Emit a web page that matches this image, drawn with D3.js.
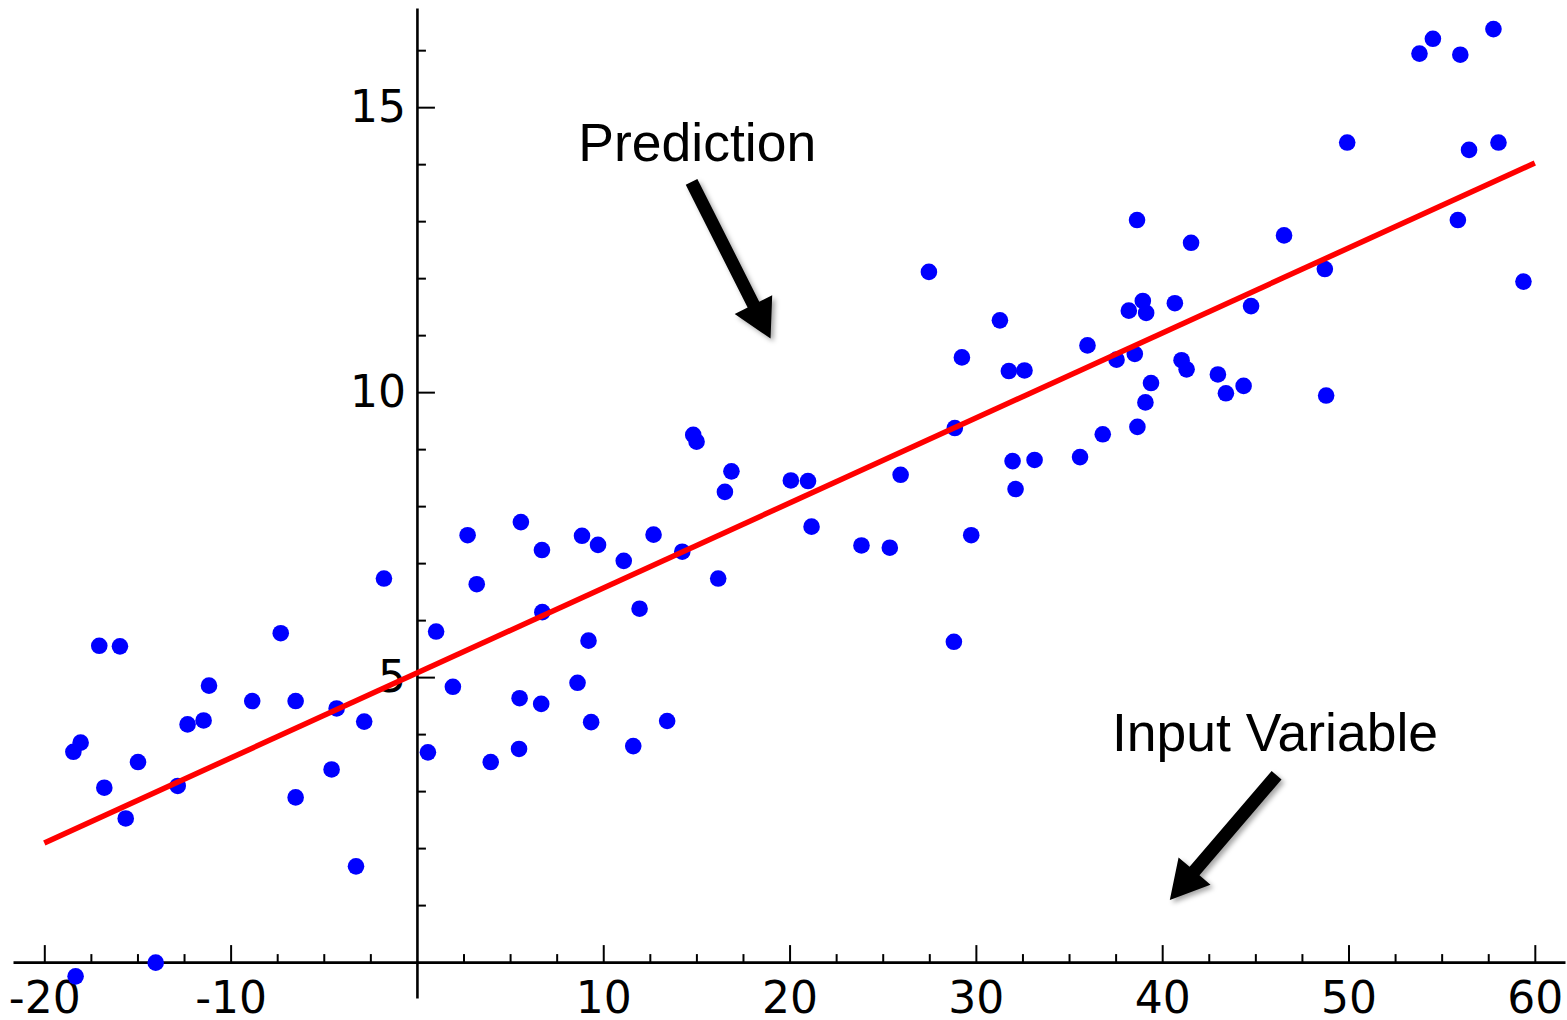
<!DOCTYPE html>
<html>
<head>
<meta charset="utf-8">
<script src="https://cdn.jsdelivr.net/npm/d3@7"></script>
<style>
  html, body { margin: 0; padding: 0; background: #fff; }
  svg { display: block; }
</style>
</head>
<body>
<div id="chart"></div>
<script>
// scatter points
const xs = [-1.77, -17.05, -15.94, -7.31, -11.16, -8.84, -6.51, -4.31, -2.83, -12.31, -11.45,
  -18.05, -18.44, -14.97, -4.58, -16.78, -12.84, -6.51, -15.63, -3.27, -14.02, -18.32,
  14.83, 15.01, 16.88, 16.53, 20.07, 20.99, 21.18, 5.58, 2.72, 8.86, 9.72, 12.70, 6.71,
  11.10, 14.24, 3.21, 16.17, 11.95, 6.73, 1.03, 9.21, 1.93, 8.62, 5.51, 6.67, 9.35, 13.43,
  0.59, 3.96, 5.48, 11.61,
  27.48, 31.29, 29.25, 31.77, 32.61, 35.99, 38.21, 38.96, 39.14, 40.68, 37.55, 38.53,
  41.04, 41.31, 42.99, 43.42, 44.37, 39.40, 39.10, 38.67, 36.81, 35.59, 31.97, 33.15,
  32.13, 28.87, 25.96, 23.86, 25.38, 29.75, 28.82,
  57.78, 54.53, 53.81, 56.00, 49.93, 56.47, 58.05, 55.87, 38.65, 41.55, 46.54, 48.73,
  59.39, 44.77, 48.80];
const ys = [6.73, 5.55, 5.54, 5.77, 4.85, 4.58, 4.58, 4.45, 4.22, 4.17, 4.24,
  3.85, 3.69, 3.51, 3.38, 3.06, 3.09, 2.89, 2.52, 1.68, -0.01, -0.25,
  9.25, 9.13, 8.61, 8.25, 8.45, 8.44, 7.64, 7.72, 7.49, 7.48, 7.32, 7.50, 7.23,
  7.04, 7.20, 6.63, 6.73, 6.20, 6.14, 5.80, 5.64, 4.83, 4.90, 4.63, 4.53, 4.21, 4.23,
  3.68, 3.51, 3.74, 3.79,
  12.11, 11.26, 10.61, 10.37, 10.38, 10.82, 11.43, 11.60, 11.39, 11.56, 10.57, 10.67,
  10.56, 10.40, 10.31, 9.98, 10.11, 10.16, 9.82, 9.39, 9.26, 8.86, 8.79, 8.81,
  8.30, 9.37, 8.55, 7.31, 7.27, 7.49, 5.62,
  16.37, 16.20, 15.94, 15.92, 14.38, 14.25, 14.38, 13.02, 13.02, 12.62, 12.75, 12.16,
  11.94, 11.51, 9.94];

// prediction line end points
const lineX = [-20, 60];
const lineY = [2.09, 14.02];

// axis ticks
const xMajor = [-20, -10, 10, 20, 30, 40, 50, 60];
const xMinor = [-17.5, -15, -12.5, -7.5, -5, -2.5, 2.5, 5, 7.5, 12.5, 15, 17.5, 22.5, 25, 27.5,
  32.5, 35, 37.5, 42.5, 45, 47.5, 52.5, 55, 57.5];
const yMajor = [5, 10, 15];
const yMinor = [1, 2, 3, 4, 6, 7, 8, 9, 11, 12, 13, 14, 16];

// annotations (data units)
const notes = [
  { text: "Prediction", x: 8.66, y: 14.05, from: [14.74, 13.69], to: [18.98, 10.94] },
  { text: "Input Variable", x: 37.3, y: 3.70, from: [46.14, 3.28], to: [40.41, 1.09] }
];

const width = 1567, height = 1020;

const svg = d3.select("#chart").append("svg")
  .attr("width", width)
  .attr("height", height);

const x = d3.scaleLinear().domain([-21.68, 61.62]).range([13, 1565]);
const y = d3.scaleLinear().domain([-0.63, 16.74]).range([998, 8]);

const defs = svg.append("defs");
defs.append("filter")
  .attr("id", "shadow")
  .attr("x", "-20%").attr("y", "-20%").attr("width", "140%").attr("height", "140%")
  .append("feDropShadow")
  .attr("dx", 3).attr("dy", 3).attr("stdDeviation", 2.5)
  .attr("flood-color", "#000").attr("flood-opacity", 0.35);

const tickFont = "'DejaVu Sans', sans-serif";
const plain = d => String(d);

// x axis, ticks pointing up
const gx = svg.append("g").attr("transform", `translate(0,${y(0)})`);
gx.call(d3.axisBottom(x).tickValues(xMinor).tickSizeInner(-8).tickSizeOuter(0).tickFormat(""));
gx.select(".domain").remove();
gx.call(g => g.append("g")
  .call(d3.axisBottom(x).tickValues(xMajor).tickSizeInner(-17).tickSizeOuter(0)
    .tickPadding(20).tickFormat(plain)));
gx.selectAll("line").attr("stroke", "#000").attr("stroke-width", 2);
gx.select(".domain").attr("stroke", "#000").attr("stroke-width", 2.6);
gx.selectAll("text")
  .attr("fill", "#000")
  .style("font-family", tickFont)
  .style("font-size", "44px");

// y axis, ticks pointing right
const gy = svg.append("g").attr("transform", `translate(${x(0)},0)`);
gy.call(d3.axisLeft(y).tickValues(yMinor).tickSizeInner(-9).tickSizeOuter(0).tickFormat(""));
gy.select(".domain").remove();
gy.call(g => g.append("g")
  .call(d3.axisLeft(y).tickValues(yMajor).tickSizeInner(-18).tickSizeOuter(0)
    .tickPadding(11).tickFormat(plain)));
gy.selectAll("line").attr("stroke", "#000").attr("stroke-width", 2);
gy.select(".domain").attr("stroke", "#000").attr("stroke-width", 2.6);
gy.selectAll("text")
  .attr("fill", "#000")
  .style("font-family", tickFont)
  .style("font-size", "44px");

// points
svg.append("g")
  .selectAll("circle")
  .data(d3.range(xs.length))
  .join("circle")
  .attr("cx", i => x(xs[i]))
  .attr("cy", i => y(ys[i]))
  .attr("r", 8.3)
  .attr("fill", "#0000ff");

// prediction line
svg.append("path")
  .datum(d3.range(lineX.length))
  .attr("fill", "none")
  .attr("stroke", "#ff0000")
  .attr("stroke-width", 5.5)
  .attr("d", d3.line().x(i => x(lineX[i])).y(i => y(lineY[i])));

// arrow outline from start to tip
function arrow(s, t) {
  const shaft = 13, headLen = 38, headHalf = 21;
  const dx = t[0] - s[0], dy = t[1] - s[1];
  const len = Math.hypot(dx, dy);
  const ux = dx / len, uy = dy / len;
  const nx = -uy, ny = ux;
  const bx = t[0] - ux * headLen, by = t[1] - uy * headLen;
  const pts = [
    [s[0] + nx * shaft / 2, s[1] + ny * shaft / 2],
    [bx + nx * shaft / 2, by + ny * shaft / 2],
    [bx + nx * headHalf, by + ny * headHalf],
    t,
    [bx - nx * headHalf, by - ny * headHalf],
    [bx - nx * shaft / 2, by - ny * shaft / 2],
    [s[0] - nx * shaft / 2, s[1] - ny * shaft / 2]
  ];
  return "M" + pts.map(p => p.join(",")).join("L") + "Z";
}

const ann = svg.append("g");
ann.selectAll("path")
  .data(notes)
  .join("path")
  .attr("d", d => arrow([x(d.from[0]), y(d.from[1])], [x(d.to[0]), y(d.to[1])]))
  .attr("fill", "#000")
  .attr("filter", "url(#shadow)");

ann.selectAll("text")
  .data(notes)
  .join("text")
  .attr("x", d => x(d.x))
  .attr("y", d => y(d.y))
  .style("font-family", "'Liberation Sans', Arial, sans-serif")
  .style("font-size", "53.5px")
  .attr("fill", "#000")
  .text(d => d.text);
</script>
</body>
</html>
